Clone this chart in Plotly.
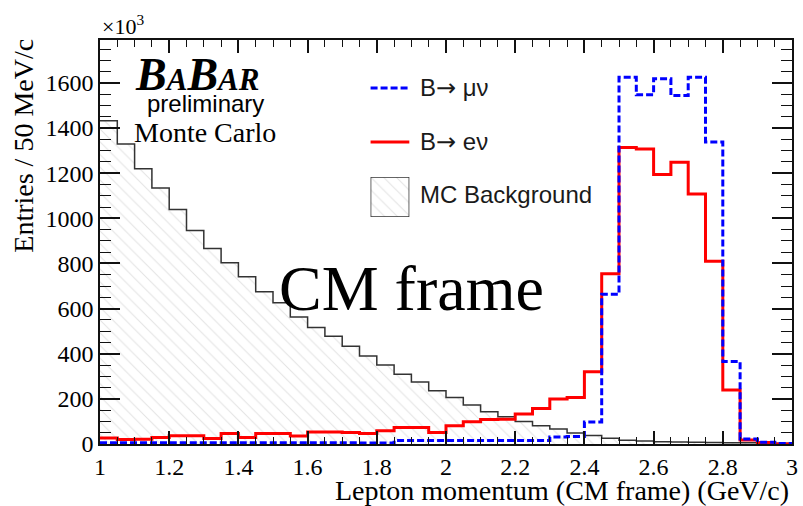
import numpy as np
import plotly.graph_objects as go

# Binning: 40 bins of 50 MeV/c between 1 and 3 GeV/c
bin_edges = np.round(1.0 + 0.05 * np.arange(41), 2)

# Entries per bin (units of 10^3)
mc_background = [1432, 1329, 1220, 1134, 1039, 946, 866, 803, 741, 675,
                 626, 563, 516, 477, 433, 390, 350, 309, 275, 236,
                 206, 173, 143, 121, 100, 81, 66, 49, 38, 25,
                 17, 13, 10, 9, 8, 7, 6, 5, 4, 3]
b_to_enu = [27, 20, 21, 29, 37, 37, 24, 47, 29, 47,
            47, 35, 53, 53, 51, 47, 59, 73, 73, 51,
            81, 99, 109, 110, 133, 157, 199, 206, 320, 754,
            1314, 1307, 1194, 1248, 1108, 810, 239, 18, 7, 0]
b_to_munu = [6, 6, 6, 6, 5, 5, 5, 5, 5, 5,
             5, 5, 5, 5, 5, 4, 4, 15, 15, 15,
             15, 15, 15, 15, 15, 15, 31, 33, 98, 663,
             1625, 1547, 1618, 1544, 1625, 1338, 365, 22, 8, 2]

x_tick_vals = [1, 1.2, 1.4, 1.6, 1.8, 2, 2.2, 2.4, 2.6, 2.8, 3]
x_tick_text = ["1", "1.2", "1.4", "1.6", "1.8", "2", "2.2", "2.4", "2.6", "2.8", "3"]
y_tick_vals = [0, 200, 400, 600, 800, 1000, 1200, 1400, 1600]

ARROW = "<span style='font-family:DejaVu Sans'>\u2192</span>"
legend_labels = ["B" + ARROW + " \u03bc\u03bd", "B" + ARROW + " e\u03bd",
                 "MC Background"]

SERIF = "Liberation Serif, Times New Roman, serif"
SANS = "Liberation Sans, Arial, Helvetica, sans-serif"


def steps(values):
    # repeat the last bin so the 'hv' step closes at the upper edge
    return list(values) + [values[-1]]


fig = go.Figure()

fig.add_trace(go.Scatter(
    x=bin_edges, y=steps(mc_background), mode="lines", line_shape="hv",
    line=dict(color="#333333", width=1.5),
    fill="tozeroy", fillcolor="rgba(0,0,0,0)",
    fillpattern=dict(shape="\\", fgcolor="#c8c8c8", bgcolor="white",
                     size=9, solidity=0.12),
    showlegend=False, hoverinfo="skip"))

fig.add_trace(go.Scatter(
    x=bin_edges, y=steps(b_to_enu), mode="lines", line_shape="hv",
    line=dict(color="#ff0000", width=3),
    showlegend=False, hoverinfo="skip"))

fig.add_trace(go.Scatter(
    x=bin_edges, y=steps(b_to_munu), mode="lines", line_shape="hv",
    line=dict(color="#0000ff", width=3, dash="7px,3px"),
    showlegend=False, hoverinfo="skip"))

# Hatched swatch of the legend, drawn on a small inset axis
leg_x0, leg_x1 = 0.391, 0.447
fig.add_trace(go.Scatter(
    x=[0, 1, 1, 0, 0], y=[0, 0, 1, 1, 0], mode="lines",
    xaxis="x2", yaxis="y2",
    line=dict(color="#333333", width=1.5),
    fill="toself", fillcolor="rgba(0,0,0,0)",
    fillpattern=dict(shape="\\", fgcolor="#c8c8c8", bgcolor="white",
                     size=9, solidity=0.12),
    showlegend=False, hoverinfo="skip"))

axis_common = dict(
    showline=True, linecolor="#111111", linewidth=1.5, mirror="ticks",
    showgrid=False, zeroline=False, ticks="inside", tickcolor="#111111",
    tickwidth=1.5, tickfont=dict(family=SERIF, size=24, color="black"),
)

fig.update_layout(
    width=803, height=506,
    margin=dict(l=100, r=5, t=40, b=62),
    paper_bgcolor="white", plot_bgcolor="white",
    xaxis=dict(range=[1, 3], tickvals=x_tick_vals, ticktext=x_tick_text,
               ticklen=13,
               minor=dict(dtick=0.05, tick0=1, ticklen=7, ticks="inside",
                          tickcolor="#111111", tickwidth=1.2),
               **axis_common),
    yaxis=dict(range=[0, 1790], tickvals=y_tick_vals, ticklen=20,
               minor=dict(dtick=50, tick0=0, ticklen=11, ticks="inside",
                          tickcolor="#111111", tickwidth=1.2),
               **axis_common),
    xaxis2=dict(domain=[leg_x0, leg_x1], range=[0, 1], visible=False,
                anchor="y2", fixedrange=True),
    yaxis2=dict(domain=[0.562, 0.661], range=[0, 1], visible=False,
                anchor="x2", fixedrange=True),
)

# Legend lines
fig.add_shape(type="line", xref="paper", yref="paper",
              x0=leg_x0, x1=leg_x1, y0=0.881, y1=0.881,
              line=dict(color="#0000ff", width=3, dash="7px,3px"))
fig.add_shape(type="line", xref="paper", yref="paper",
              x0=leg_x0, x1=leg_x1, y0=0.7475, y1=0.7475,
              line=dict(color="#ff0000", width=3))

legend_y = [0.881, 0.7475, 0.617]
for label, ly in zip(legend_labels, legend_y):
    fig.add_annotation(text=label, xref="paper", yref="paper",
                       x=0.459, y=ly, xanchor="left", yanchor="middle",
                       showarrow=False,
                       font=dict(family=SANS, size=24, color="#1a1a1a"))

# Experiment tag
fig.add_annotation(
    text="<b><i>B<span style='font-size:31px'>A</span>B"
         "<span style='font-size:31px'>AR</span></i></b>",
    xref="paper", yref="paper", x=0.1404, y=0.915,
    xanchor="center", yanchor="middle", showarrow=False,
    font=dict(family=SERIF, size=46, color="black"))
fig.add_annotation(text="preliminary", xref="paper", yref="paper",
                   x=0.152, y=0.842, xanchor="center", yanchor="middle",
                   showarrow=False,
                   font=dict(family=SANS, size=24, color="black"))
fig.add_annotation(text="Monte Carlo", xref="paper", yref="paper",
                   x=0.152, y=0.77, xanchor="center", yanchor="middle",
                   showarrow=False,
                   font=dict(family=SERIF, size=28, color="black"))

fig.add_annotation(text="CM frame", xref="paper", yref="paper",
                   x=0.45, y=0.3837, xanchor="center", yanchor="middle",
                   showarrow=False,
                   font=dict(family=SERIF, size=64, color="black"))

# Axis titles and exponent
fig.add_annotation(text="\u00d710<sup>3</sup>", xref="paper", yref="paper",
                   x=0.0, y=1.0, xanchor="left", yanchor="bottom",
                   yshift=-1, showarrow=False,
                   font=dict(family=SERIF, size=22, color="black"))
fig.add_annotation(text="Entries / 50 MeV/c", xref="paper", yref="paper",
                   x=-0.1117, y=1.0074, xanchor="center", yanchor="top",
                   textangle=-90, showarrow=False,
                   font=dict(family=SERIF, size=28, color="black"))
fig.add_annotation(text="Lepton momentum (CM frame) (GeV/c)",
                   xref="paper", yref="paper",
                   x=0.9986, y=-0.1163, xanchor="right", yanchor="middle",
                   showarrow=False,
                   font=dict(family=SERIF, size=28, color="black"))

fig.write_html("out.html")
